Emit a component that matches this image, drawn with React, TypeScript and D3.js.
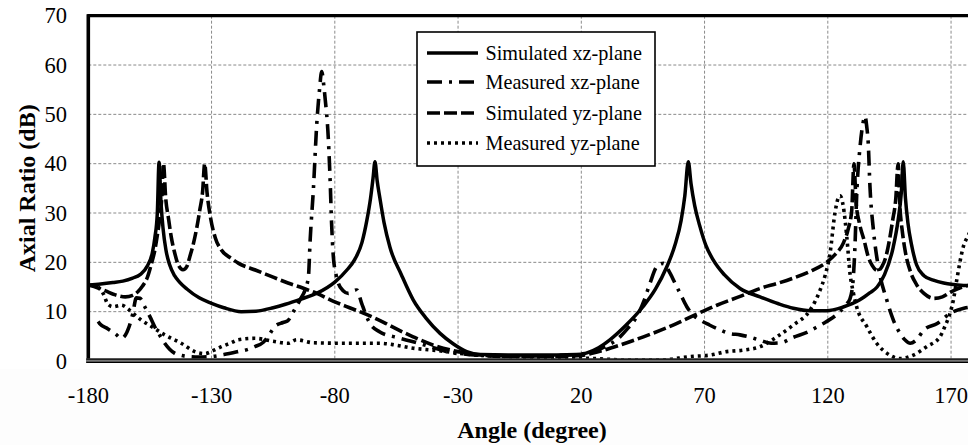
import React from "react";
import * as d3 from "d3";

// ---------- data ----------
const xTicks = [-180, -130, -80, -30, 20, 70, 120, 170];
const yTicks = [0, 10, 20, 30, 40, 50, 60, 70];
const seriesNames = ["Simulated xz-plane", "Measured xz-plane", "Simulated yz-plane", "Measured yz-plane"];

const simulatedXZ: [number, number][] = [
  [-180, 15.4], [-175, 15.6], [-170, 15.9], [-166, 16.2], [-162, 16.8], [-159, 17.5], [-156, 19.3],
  [-154, 22], [-153, 25], [-152, 30], [-151.3, 40.3], [-150.5, 32], [-149.7, 27], [-148.5, 22.5],
  [-147, 19.5], [-145, 17.3], [-143, 16], [-140, 14.6], [-135, 12.8], [-130, 11.7], [-125, 10.8],
  [-118, 10], [-112, 10.1], [-105, 10.8], [-100, 11.5], [-94, 12.5], [-87, 13.8], [-80, 16],
  [-75, 18.5], [-72, 20.5], [-69, 24], [-67, 28.5], [-65.5, 33], [-64.5, 37], [-63.7, 40.4],
  [-62.8, 36.5], [-61.7, 33], [-60, 28], [-57.6, 23], [-53, 17.5], [-48.2, 12.4], [-43, 8.7],
  [-37.3, 5.6], [-32, 3.5], [-26.5, 1.9], [-21, 1.3], [-10, 1.2], [0, 1.2], [10, 1.2], [18, 1.3],
  [22, 1.6], [27, 2.7], [31.6, 4.3], [38, 7.2], [45, 11], [50, 14.5], [54.6, 19], [58, 23.5],
  [60.5, 28.5], [62, 33.5], [63.4, 40.4], [64.5, 36], [66, 31.5], [68, 27.5], [70.5, 23.5],
  [73.5, 20.5], [78, 17.5], [84.4, 14.7], [92.5, 13], [100, 11.6], [106, 10.7], [113, 10.2],
  [119.5, 10.2], [126, 10.9], [133, 12.4], [137, 13.8], [140, 15], [143, 17.5], [146.5, 23],
  [148.5, 28.5], [149.8, 34], [150.6, 40.4], [151.5, 33], [152.5, 28], [154, 23.5], [156, 19.5],
  [159, 17.3], [162.8, 16.4], [167, 15.8], [171, 15.5], [176, 15.3], [180, 15.4],
];

const measuredXZ: [number, number][] = [
  [-176, 8], [-175.4, 7.6], [-172, 6.5], [-169, 5.5], [-166.6, 4.6], [-165, 5.2], [-163.7, 6.6],
  [-162, 9.5], [-160.5, 12.8], [-159, 12.7], [-157.1, 11], [-155, 9], [-153.1, 7], [-151, 5.2],
  [-149, 3.6], [-147, 2.4], [-145, 1.6], [-142, 1.1], [-139.6, 0.9], [-135, 0.8], [-130.1, 0.9],
  [-125, 1.3], [-119.3, 1.9], [-115, 2.4], [-112.5, 2.9], [-109, 3.8], [-107.1, 4.9], [-105.5, 6.2],
  [-104.4, 7], [-101, 7.8], [-99, 8.2], [-96.8, 10], [-94, 12.5], [-92, 14.5], [-90.7, 17.1],
  [-90, 24.5], [-88.7, 34.7], [-87.3, 48.2], [-86.2, 55], [-85.3, 58.7], [-84.5, 56], [-84, 53.6],
  [-82.6, 44.8], [-81.9, 36.7], [-81.3, 27.9], [-80.6, 21.2], [-79.5, 17.5], [-78.6, 15.8],
  [-76.5, 14.2], [-74.5, 13.7], [-72.5, 14.2], [-71.1, 14.4], [-69.1, 11.7], [-67.5, 9.5],
  [-65.7, 7.6], [-61.7, 5.9], [-55, 4.8], [-48.2, 3.9], [-40, 2.7], [-34.6, 1.9], [-25, 1.3],
  [-15, 1.1], [0, 1.0], [10, 1.1], [20, 1.4], [28, 2.5], [35.7, 4.9], [39, 6.7], [42.5, 9],
  [45.5, 12.3], [47.9, 15.8], [50.6, 19.1], [53.3, 19.8], [56, 17.8], [58, 15.8], [60.1, 13.7],
  [62.8, 11], [65, 9.5], [68.2, 8.3], [72, 7.3], [76.3, 6.3], [80, 5.6], [84.4, 5.3], [88, 4.9],
  [92.5, 4.2], [97, 3.6], [101, 3.7], [106, 4.8], [111.5, 5.8], [116, 7], [119.5, 8], [124.9, 10],
  [127.5, 11.5], [129, 12.6], [130.2, 16], [131, 23], [131.7, 33.3], [133.1, 43.5], [134.2, 48],
  [135.1, 49.6], [135.8, 47.5], [136.4, 44.2], [137.1, 35.4], [138.5, 26.6], [140.5, 19.1],
  [143.9, 12.4], [146.6, 8.3], [149.3, 5.6], [151.5, 4.2], [153.4, 3.6], [156, 4.3], [159, 6.3],
  [164.4, 7.6], [169.8, 9.7], [175.2, 10.7], [180, 11],
];

const simulatedYZ: [number, number][] = [
  [-180, 15.4], [-176, 14.8], [-173, 14.2], [-169, 13.4], [-165, 13], [-162, 13.3], [-160, 14],
  [-158, 15.2], [-156, 17], [-154.5, 19.5], [-153, 22.5], [-152, 25.5], [-151, 29], [-150.2, 33],
  [-149.5, 40], [-148.6, 33], [-147.5, 29], [-146.3, 25], [-145, 22], [-143.5, 19.5], [-141.6, 18.5],
  [-140, 19.2], [-138.9, 21], [-137.5, 23.5], [-136, 27], [-134.8, 30.5], [-133.6, 34.5],
  [-132.8, 40], [-131.8, 34], [-130.5, 29.3], [-128.5, 25], [-126, 22.5], [-122, 20.8], [-119, 19.8],
  [-112, 18.4], [-105, 17], [-99, 15.8], [-93, 14.8], [-87.3, 13.7], [-80, 12], [-74, 10.8],
  [-68.4, 9.7], [-60, 7.8], [-55, 6.5], [-48.2, 4.9], [-40, 3.2], [-30, 1.9], [-21, 1.2], [-10, 0.9],
  [0, 0.9], [10, 0.9], [20, 1.1], [24.8, 1.6], [35, 3.1], [45.2, 4.9], [55, 6.8], [65.5, 9.2],
  [75, 11.3], [85, 13.2], [92.5, 14.7], [100, 15.8], [106, 16.8], [113, 18.2], [119.5, 20],
  [123, 21.6], [126.3, 23.9], [128.3, 26.8], [129.7, 30.5], [130.6, 40], [131.5, 32], [132.8, 28],
  [134.7, 24.5], [136.5, 21], [138, 19.4], [140.2, 18.3], [142, 19.2], [143.6, 21.2], [145, 24.5],
  [146.3, 28.5], [147.6, 33], [148.5, 40], [149.3, 31], [150.3, 26], [151.5, 22], [153.6, 18],
  [156, 15.5], [159, 13.7], [163, 12.7], [166.5, 13], [170, 14], [174, 14.9], [180, 15.6],
];

const measuredYZ: [number, number][] = [
  [-176, 15], [-174, 13.7], [-172, 11.5], [-170, 11], [-166.6, 11.3], [-164, 10.6], [-162.6, 10],
  [-158.5, 8.3], [-154.4, 7], [-149, 5.3], [-142.3, 3.6], [-136.8, 1.9], [-132.8, 1.5], [-129, 2.2],
  [-126, 2.9], [-122, 3.7], [-119.3, 4.3], [-112.5, 4.6], [-105, 4], [-99, 3.6], [-95.5, 4.3],
  [-88.7, 3.7], [-75, 3.6], [-61.7, 3.6], [-55, 3.2], [-48.2, 2.6], [-40, 2.2], [-34.6, 1.9],
  [-25, 1.3], [-15, 1], [0, 0.8], [15, 0.6], [24.8, 0.5], [38.4, 0.2], [51.9, 0.2], [64.4, 0.9],
  [72.2, 1.2], [79, 1.9], [85.7, 2.2], [92.5, 2.9], [99.3, 4.9], [106, 7.3], [112.8, 10.3],
  [116.9, 14.4], [119, 17.5], [120.9, 21.8], [122.9, 30], [124.2, 33], [125, 33.5], [126.3, 31.3],
  [127.7, 25.2], [129, 17.8], [130.3, 14], [131.7, 11], [135.8, 7], [139.8, 3.6], [143.9, 1.6],
  [149.3, 0.5], [154.7, 1.2], [160.1, 2.9], [165.5, 4.9], [167.5, 7], [169.6, 9.7], [171, 12.5],
  [172.3, 16.4], [175, 23.2], [177, 25.5], [180, 28],
];

// ---------- layout ----------
const W = 968;
const H = 445;
const PL = 88.3;
const PR = 975.7;
const PT = 15.7;
const PB = 361;
const FONT = "'Liberation Serif', 'Times New Roman', Times, serif";

const styles = [
  { dash: "none", width: 3.5 },
  { dash: "15,7,3,7", width: 3.6 },
  { dash: "13,4", width: 3.6 },
  { dash: "3,4", width: 3.6 },
];

export default function App() {
  const x = d3.scaleLinear().domain([-180, 180]).range([PL, PR]);
  const y = d3.scaleLinear().domain([0, 70]).range([PB, PT]);
  const line = d3
    .line<[number, number]>()
    .x((d) => x(d[0]))
    .y((d) => y(d[1]))
    .curve(d3.curveMonotoneX);

  const all = [simulatedXZ, measuredXZ, simulatedYZ, measuredYZ];

  const legX = 417;
  const legY = 32;
  const legW = 238;
  const legH = 134;
  const rowY = [53, 82, 113, 143];

  return (
    <svg
      width={W}
      height={H}
      style={{ position: "absolute", left: 0, top: 0, display: "block", background: "#fff" }}
    >
      <rect x={0} y={0} width={W} height={H} fill="#ffffff" />
      <rect x={0} y={369} width={W} height={H - 369} fill="#fdfdfd" />
      <defs>
        <clipPath id="plotclip">
          <rect x={PL} y={PT} width={PR - PL} height={PB - PT} />
        </clipPath>
      </defs>
      {/* grid */}
      {yTicks.filter((t) => t > 0 && t < 70).map((t) => (
        <line key={"gy" + t} x1={PL} x2={PR} y1={y(t)} y2={y(t)} stroke="#8a8a8a" strokeWidth={1} strokeDasharray="3,2" />
      ))}
      {xTicks.filter((t) => t > -180).map((t) => (
        <line key={"gx" + t} x1={x(t)} x2={x(t)} y1={PT} y2={PB} stroke="#8a8a8a" strokeWidth={1} strokeDasharray="3,2" />
      ))}
      {/* series */}
      <g clipPath="url(#plotclip)">
        {all.map((s, i) => (
          <path
            key={i}
            d={line(s) || ""}
            fill="none"
            stroke="#000"
            strokeWidth={styles[i].width}
            strokeDasharray={styles[i].dash}
            strokeLinejoin="round"
          />
        ))}
      </g>
      {/* frame */}
      <line x1={PL - 1} x2={PR} y1={PT} y2={PT} stroke="#000" strokeWidth={3.2} />
      <line x1={PL} x2={PL} y1={PT - 1.5} y2={PB + 2} stroke="#000" strokeWidth={3.6} />
      <rect x={PL - 2} y={358.4} width={PR - PL + 2} height={4.6} fill="#777" />
      <line x1={PL - 2} x2={PR} y1={359.1} y2={359.1} stroke="#000" strokeWidth={1.4} />
      <line x1={PL - 2} x2={PR} y1={362.4} y2={362.4} stroke="#000" strokeWidth={1.4} />
      {/* y ticks */}
      {yTicks.map((t) => (
        <text key={"ty" + t} x={67} y={y(t) + 7.5} textAnchor="end" fontFamily={FONT} fontSize={22.5} fill="#000">
          {t}
        </text>
      ))}
      {/* x ticks */}
      {xTicks.map((t) => (
        <text key={"tx" + t} x={x(t)} y={403} textAnchor="middle" fontFamily={FONT} fontSize={22.5} fill="#000">
          {t}
        </text>
      ))}
      {/* axis titles */}
      <text x={(PL + PR) / 2} y={438} textAnchor="middle" fontFamily={FONT} fontSize={24} fontWeight="bold" fill="#000">
        Angle (degree)
      </text>
      <text
        transform={`translate(35, ${(PT + PB) / 2}) rotate(-90)`}
        textAnchor="middle"
        fontFamily={FONT}
        fontSize={24}
        fontWeight="bold"
        fill="#000"
      >
        Axial Ratio (dB)
      </text>
      {/* legend */}
      <rect x={legX} y={legY} width={legW} height={legH} fill="#fff" stroke="#000" strokeWidth={1.6} />
      {seriesNames.map((n, i) => (
        <g key={n}>
          <line
            x1={427}
            x2={478}
            y1={rowY[i]}
            y2={rowY[i]}
            stroke="#000"
            strokeWidth={styles[i].width}
            strokeDasharray={styles[i].dash}
          />
          <text x={485.5} y={rowY[i] + 7} fontFamily={FONT} fontSize={20.2} fill="#000">
            {n}
          </text>
        </g>
      ))}
    </svg>
  );
}
